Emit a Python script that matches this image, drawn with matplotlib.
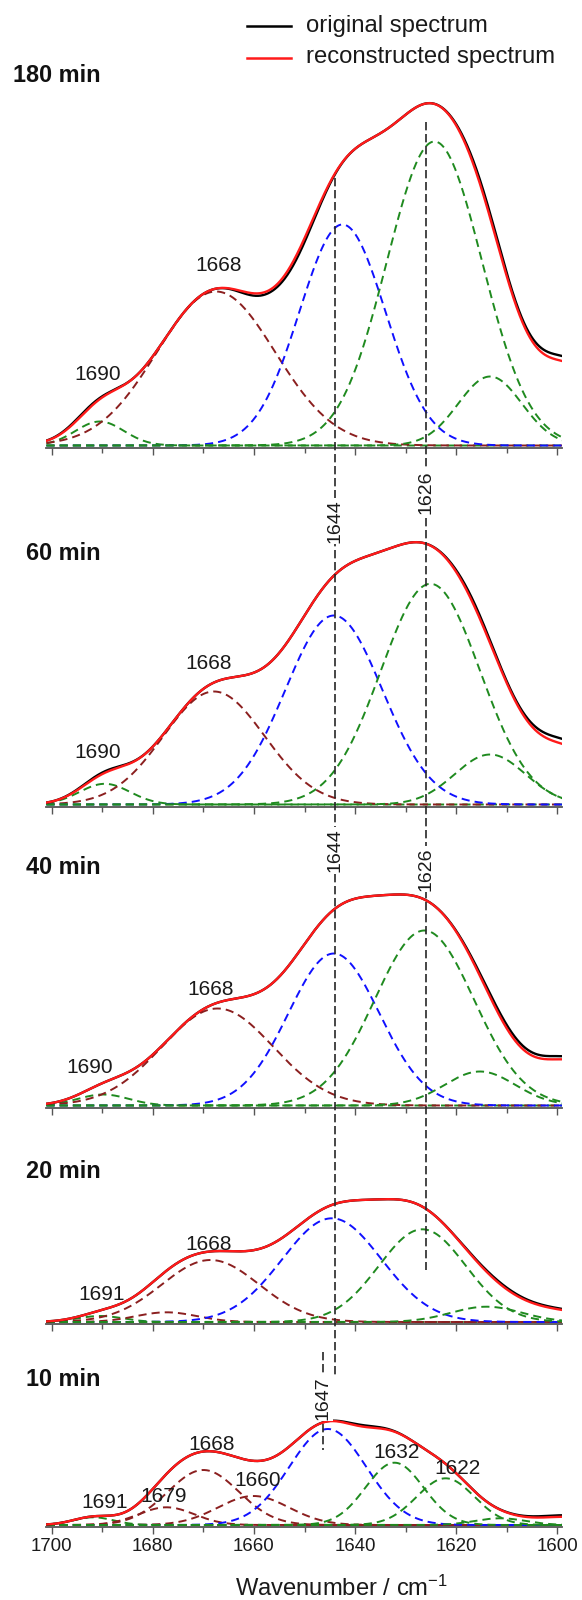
import numpy as np
import matplotlib
matplotlib.use("Agg")
import matplotlib.pyplot as plt
from matplotlib.ticker import MultipleLocator

plt.rcParams['font.family'] = ['Liberation Sans', 'DejaVu Sans']
plt.rcParams['mathtext.fontset'] = 'custom'
plt.rcParams['mathtext.rm'] = 'Liberation Sans'
plt.rcParams['mathtext.default'] = 'regular'

# ---------------- data (band fit of amide I region) ----------------
times = ["180 min", "60 min", "40 min", "20 min", "10 min"]

c180 = [1690.5, 1667.5, 1642.5, 1624.3, 1613.3]
w180 = [4.8, 11.7, 8.5, 9.4, 6.3]
h180 = [0.024, 0.154, 0.221, 0.304, 0.069]
k180 = ["green", "brown", "blue", "green", "green"]
x180 = [1597.0, 7.0, 0.074]
r180_c = [1599, 1614, 1651, 1660, 1693]
r180_w = [6, 4, 4, 3, 4]
r180_h = [0.005, 0.004, -0.004, -0.002, 0.0015]

c60 = [1689.5, 1667.9, 1644.2, 1625.1, 1613.3]
w60 = [5.0, 10.0, 9.6, 9.8, 7.0]
h60 = [0.0207, 0.113, 0.189, 0.2207, 0.050]
k60 = ["green", "brown", "blue", "green", "green"]
x60 = [1597.0, 7.0, 0.050]
r60_c = [1599, 1616, 1690]
r60_w = [6, 4, 4]
r60_h = [0.005, 0.003, 0.0015]

c40 = [1689.8, 1667.2, 1644.2, 1626.3, 1615.3]
w40 = [5.0, 11.0, 9.0, 9.8, 7.0]
h40 = [0.011, 0.097, 0.152, 0.175, 0.034]
k40 = ["green", "brown", "blue", "green", "green"]
x40 = [1597.0, 7.0, 0.042]
r40_c = [1600, 1612]
r40_w = [6, 5]
r40_h = [0.003, 0.003]

c20 = [1690.4, 1677.3, 1668.6, 1644.6, 1626.7, 1614.0]
w20 = [4.5, 6.0, 9.6, 9.8, 8.6, 7.0]
h20 = [0.006, 0.0097, 0.062, 0.1037, 0.0927, 0.0153]
k20 = ["green", "brown", "brown", "blue", "green", "green"]
x20 = [1600.0, 9.0, 0.010]
r20_c = [1600, 1612]
r20_w = [6, 5]
r20_h = [0.001, 0.0015]

c10 = [1691.8, 1677.3, 1670.0, 1660.1, 1645.4, 1632.2, 1622.1, 1611.3]
w10 = [4.0, 5.5, 7.0, 7.0, 7.6, 5.7, 5.7, 5.0]
h10 = [0.0077, 0.0177, 0.055, 0.029, 0.096, 0.0623, 0.0467, 0.0067]
k10 = ["green", "brown", "brown", "brown", "blue", "green", "green", "green"]
x10 = [1598.0, 6.0, 0.008]
r10_c = [1600, 1638]
r10_w = [6, 4]
r10_h = [0.0015, 0.0015]

# peak labels per panel: (text, wavenumber position, height position)
lab180 = [("1690", 1691.0, 0.071), ("1668", 1667.0, 0.180)]
lab60 = [("1690", 1691.0, 0.052), ("1668", 1669.0, 0.141)]
lab40 = [("1690", 1692.5, 0.038), ("1668", 1668.6, 0.116)]
lab20 = [("1691", 1690.2, 0.027), ("1668", 1669.0, 0.078)]
lab10 = [("1691", 1689.6, 0.023), ("1679", 1677.8, 0.029),
         ("1668", 1668.3, 0.080), ("1660", 1659.3, 0.044),
         ("1632", 1631.7, 0.073), ("1622", 1619.8, 0.057)]

marker_bands = ["1644", "1626", "1647"]
marker_pos = [1644.0, 1626.0, 1646.3]

panels = [
    (c180, w180, h180, k180, x180, r180_c, r180_w, r180_h, lab180),
    (c60, w60, h60, k60, x60, r60_c, r60_w, r60_h, lab60),
    (c40, w40, h40, k40, x40, r40_c, r40_w, r40_h, lab40),
    (c20, w20, h20, k20, x20, r20_c, r20_w, r20_h, lab20),
    (c10, w10, h10, k10, x10, r10_c, r10_w, r10_h, lab10),
]

# ---------------- layout ----------------
W, H = 582, 1600
fig = plt.figure(figsize=(W / 100, H / 100), dpi=100)

XL, XR = 46.4, 562.4
XLIM = (1701.05, 1599.0)
axis_y = [447.5, 806.5, 1107.5, 1324.0, 1527.0]
label_y = [75, 553, 867, 1172, 1380]
PXU = 1000.0      # pixels per absorbance unit
ZOFF = 2.0        # px between axis line and zero absorbance
AXH = 380.0

col = {"green": "#1f8a1f", "brown": "#8b1f1f", "blue": "#1010ff"}

wn = np.linspace(XLIM[0], XLIM[1], 1500)


def gauss(x, c, s, a):
    return a * np.exp(-0.5 * ((x - c) / s) ** 2)


for i, (cc, ww, hh, kk, xx, rc, rw, rh, labs) in enumerate(panels):
    ay = axis_y[i]
    ax = fig.add_axes([XL / W, (H - ay) / H, (XR - XL) / W, AXH / H])
    ax.set_facecolor("none")
    ax.set_xlim(*XLIM)
    ax.set_ylim(-ZOFF / PXU, (AXH - ZOFF) / PXU)
    recon = np.zeros_like(wn)
    for c, s, a, k in zip(cc, ww, hh, kk):
        g = gauss(wn, c, s, a)
        recon += g
        ax.plot(wn, g, color=col[k], lw=1.4, dashes=(4.2, 2.6), zorder=2)
    recon += gauss(wn, *xx)
    orig = recon.copy()
    for c, s, a in zip(rc, rw, rh):
        orig += gauss(wn, c, s, a)
    ax.plot(wn, orig, color="black", lw=1.7, zorder=3)
    ax.plot(wn, recon, color="#ff1a1a", lw=1.7, zorder=4)
    for t, xw, yv in labs:
        ax.text(xw, yv, t, ha="center", va="center", fontsize=15,
                color="#1a1a1a", zorder=5)
    for sp in ["top", "left", "right"]:
        ax.spines[sp].set_visible(False)
    ax.spines["bottom"].set_color("#555555")
    ax.spines["bottom"].set_linewidth(1.3)
    ax.set_yticks([])
    ax.xaxis.set_major_locator(MultipleLocator(20))
    ax.xaxis.set_minor_locator(MultipleLocator(10))
    ax.tick_params(axis="x", which="major", direction="out", length=5.2,
                   width=1.0, color="#555555", labelsize=13.4,
                   labelcolor="#1a1a1a", pad=3)
    ax.tick_params(axis="x", which="minor", direction="out", length=3.8,
                   width=1.0, color="#555555")
    if i < len(panels) - 1:
        ax.tick_params(axis="x", labelbottom=False)

# ---------------- overlay (pixel coordinates) ----------------
ov = fig.add_axes([0, 0, 1, 1])
ov.set_xlim(0, W)
ov.set_ylim(H, 0)
ov.axis("off")
ov.patch.set_alpha(0)


def px(w):
    return XL + (XLIM[0] - w) / (XLIM[0] - XLIM[1]) * (XR - XL)


# vertical marker lines
seg = {"1644": (178, 1378), "1626": (122, 1270), "1647": (1352, 1450)}
lab_pos = {"1644": [521, 850], "1626": [492, 869], "1647": [1398]}
for name, pos in zip(marker_bands, marker_pos):
    y0, y1 = seg[name]
    xp = px(pos)
    ov.plot([xp, xp], [y0, y1], color="#262626", lw=1.2, dashes=(5, 2.2),
            zorder=6)
    for yl in lab_pos[name]:
        ov.text(xp, yl, name, rotation=90, ha="center", va="center",
                fontsize=14, color="#1a1a1a", zorder=7,
                bbox=dict(facecolor="white", edgecolor="none", pad=0.6))

# panel labels
for t, yl in zip(times, label_y):
    ov.text(101, yl, t, ha="right", va="center", fontsize=16.9,
            fontweight="bold", color="#111111")

# legend
ov.plot([247, 291], [26, 26], color="black", lw=1.8)
ov.plot([247, 291], [57.5, 57.5], color="#ff1a1a", lw=1.8)
ov.text(306, 26, "original spectrum", ha="left", va="center", fontsize=17.2,
        color="#1a1a1a")
ov.text(306, 57.5, "reconstructed spectrum", ha="left", va="center",
        fontsize=17.2, color="#1a1a1a")

# x axis title
ov.text(341.5, 1588, "Wavenumber / cm$^{-1}$", ha="center", va="center",
        fontsize=17.1, color="#1a1a1a")

fig.savefig("out.png", dpi=100)
